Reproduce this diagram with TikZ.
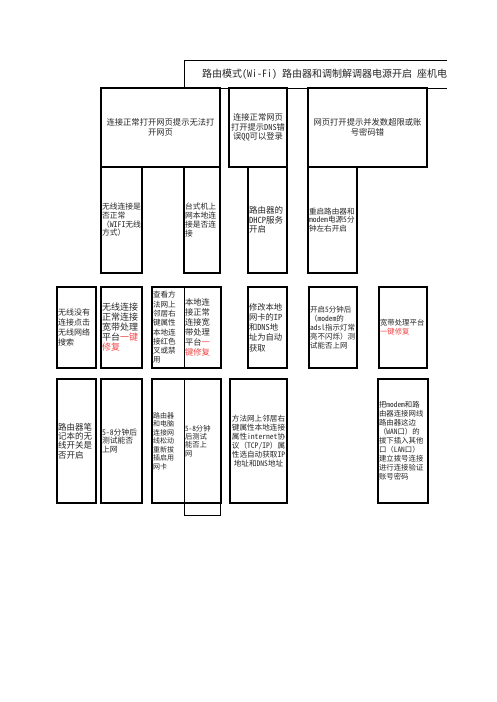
\documentclass[tikz,border=0pt]{standalone}
\usepackage{fontspec}
\setmainfont{Noto Sans CJK SC}[RawFeature=+hwid]
\newfontfamily\quanjiao{Noto Sans CJK SC}
\definecolor{hong}{RGB}{240,70,70}
\newcommand{\hong}[1]{\textcolor{hong}{#1}}
\newcommand{\zuokuo}{{\quanjiao （}}
\newcommand{\youkuo}{{\quanjiao ）}}

\begin{document}
\begin{tikzpicture}[x=1pt,y=-1pt,
  ge/.style 2 args={minimum width=#1pt, minimum height=#2pt, text width=#1pt-2pt,
    inner xsep=1pt, inner ysep=0pt, align=left, text=black!85},
  kuang/.style 2 args={ge={#1}{#2}, draw, line width=1.4pt},
  zi/.style 2 args={font=\fontsize{#1}{#2}\selectfont},
  duenn/.style={line width=0.7pt}]
  \useasboundingbox (0,0) rectangle (496,702);

  % 标题
  \draw[duenn] (447,60) -| (184,88) -- (447,88);
  \begin{scope}
    \clip (184,60) rectangle (447,88);
    \node[anchor=west, inner sep=0pt, zi={10}{12}, text=black!85] (kopf) at (202,74)
      {路由模式(Wi-Fi) 路由器和调制解调器电源开启 座机电};
  \end{scope}

  % 第一行
  \node[kuang={119}{79}, zi={8.3}{10}, align=center] (wufa) at (160.5,127.5)
    {连接正常打开网页提示无法打\\开网页};
  \node[kuang={58}{79}, zi={8.3}{9.5}, align=center] (dns) at (258,127.5)
    {连接正常网页\\打开提示DNS错\\误QQ可以登录};
  \node[kuang={119}{79}, zi={8.3}{10}, align=center] (zhanghao) at (367.5,127.5)
    {网页打开提示并发数超限或账\\号密码错};

  % 第二行
  \node[kuang={41}{106}, zi={7.8}{8.7}] (wifi) at (121.5,220)
    {无线连接是\\否正常\\\zuokuo WIFI无线\\方式\youkuo};
  \node[kuang={36}{106}, zi={7.8}{9}] (taishi) at (202,220)
    {台式机上\\网本地连\\接是否连\\接};
  \node[kuang={39}{106}, zi={8.5}{9.5}] (dhcp) at (267.5,220)
    {路由器的\\DHCP服务\\开启};
  \node[kuang={49}{106}, zi={7.6}{8.7}] (chongqi) at (332.5,220)
    {重启路由器和\\modem电源5分\\钟左右开启};

  % 第三行
  \node[kuang={39}{81}, zi={8}{10}] (sousuo) at (76.5,327.5)
    {无线没有\\连接点击\\无线网络\\搜索};
  \node[kuang={41}{81}, zi={9}{10}] (xiufu) at (121.5,327.5)
    {无线连接\\正常连接\\宽带处理\\平台\hong{一键}\\\hong{修复}};
  \node[kuang={69}{81}] (bendi) at (186.5,327.5) {};
  \node[ge={32}{81}, zi={7.6}{9.3}] (jinyong) at (168,327.5)
    {查看方\\法网上\\邻居右\\键属性\\本地连\\接红色\\叉或禁\\用};
  \node[ge={37}{81}, zi={8.3}{10}] (xiufub) at (202.5,327.5)
    {本地连\\接正常\\连接宽\\带处理\\平台\hong{一}\\\hong{键修复}};
  \node[kuang={39}{81}, zi={8.3}{10.3}] (ip) at (267.5,327.5)
    {修改本地\\网卡的IP\\和DNS地\\址为自动\\获取};
  \node[kuang={48}{81}, zi={7.5}{9}] (adsl) at (333,327.5)
    {开启5分钟后\\\zuokuo modem的\\adsl指示灯常\\亮不闪烁\youkuo 测\\试能否上网};
  \node[kuang={48}{81}, zi={7.4}{9}] (pingtai) at (403,327.5)
    {宽带处理平台\\\hong{一键修复}};

  % 第四行
  \node[kuang={39}{124}, zi={8.5}{9.3}] (kaiguan) at (76.5,441)
    {路由器笔\\记本的无\\线开关是\\否开启};
  \node[kuang={41}{124}, zi={7.8}{8.5}] (ceshi) at (121.5,441)
    {5-8分钟后\\测试能否\\上网};
  \node[kuang={69}{124}] (wangka) at (186.5,441) {};
  \node[ge={32}{124}, zi={7}{8.5}] (wangxian) at (168,441)
    {路由器\\和电脑\\连接网\\线松动\\重新拔\\插启用\\网卡};
  \node[ge={37}{124}, zi={7.3}{8.4}] (ceshib) at (202.5,441)
    {5-8分钟\\后测试\\能否上\\网};
  \node[draw, duenn, minimum width=36pt, minimum height=12pt, inner sep=0pt] (rest) at (202,509) {};
  \node[kuang={57}{124}, zi={7.6}{9}, align=center] (tcpip) at (258.5,441)
    {方法网上邻居右\\键属性本地连接\\属性internet协\\议\zuokuo TCP/IP\youkuo 属\\性选自动获取IP\\地址和DNS地址};
  \node[kuang={50}{124}, zi={7.4}{9}] (bohao) at (403,441)
    {把modem和路\\由器连接网线\\路由器这边\\\zuokuo WAN口\youkuo 的\\拔下插入其他\\口\zuokuo LAN口\youkuo\\建立拨号连接\\进行连接验证\\账号密码};

  % 分隔线
  \foreach \n in {jinyong,wangxian}
    \draw[duenn] (\n.north east) -- (\n.south east);
\end{tikzpicture}
\end{document}
